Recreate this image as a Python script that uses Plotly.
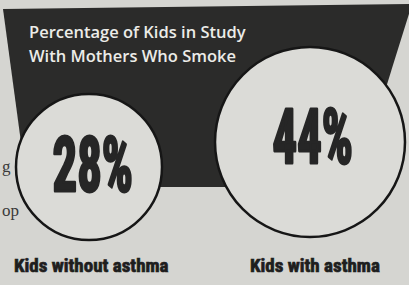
import plotly.graph_objects as go

# ---- data ----
categories = ["Kids without asthma", "Kids with asthma"]
values = [28, 44]  # percent of kids with mothers who smoke
title_lines = ["Percentage of Kids in Study", "With Mothers Who Smoke"]

# ---- layout constants ----
W, H = 409, 285
BG = "#d5d5d1"
DARK = "#2b2b2a"
CIRCLE_FILL = "#dbdbd7"
centers = [(89, 167), (310, 142)]
radii = [73, 95]
value_pos = [(92, 165), (312, 137)]
label_pos = [(91, 265), (315, 265)]
NUM_FONT = "Roboto Condensed"

fig = go.Figure()

shapes = [dict(type="path", xref="x", yref="y",
               path="M 3 9 L 412 4 L 355 187 L 27 187 Z",
               fillcolor=DARK, line=dict(width=0), layer="below")]
for (cx, cy), r in zip(centers, radii):
    shapes.append(dict(type="circle", xref="x", yref="y",
                       x0=cx - r, x1=cx + r, y0=cy - r, y1=cy + r,
                       fillcolor=CIRCLE_FILL,
                       line=dict(color="#161616", width=2.5), layer="below"))

annotations = []
for j, line in enumerate(title_lines):
    annotations.append(dict(x=27, y=31 + 24 * j, xref="x", yref="y",
                            xanchor="left", yanchor="middle",
                            text=line, showarrow=False,
                            font=dict(family="Open Sans", size=16.5, color="#ecece8", weight=600)))

for i, (cat, v) in enumerate(zip(categories, values)):
    vx, vy = value_pos[i]
    annotations.append(dict(x=vx, y=vy, xref="x", yref="y",
                            xanchor="center", yanchor="middle",
                            text=f"{v}%", showarrow=False,
                            font=dict(family=NUM_FONT, size=76, color="#262626", weight=700)))
    lx, ly = label_pos[i]
    annotations.append(dict(x=lx, y=ly, xref="x", yref="y",
                            xanchor="center", yanchor="middle",
                            text=cat, showarrow=False,
                            font=dict(family=NUM_FONT, size=19, color="#1e1e1e", weight=700)))

# stray text from the neighbouring newspaper column
annotations.append(dict(x=0, y=166, xref="x", yref="y", xanchor="left", yanchor="middle",
                        text="g", showarrow=False,
                        font=dict(family="Liberation Serif", size=17, color="#3a3a3a")))
annotations.append(dict(x=0, y=210, xref="x", yref="y", xanchor="left", yanchor="middle",
                        text="op", showarrow=False,
                        font=dict(family="Liberation Serif", size=17, color="#3a3a3a")))

fig.update_layout(
    width=W, height=H,
    margin=dict(l=0, r=0, t=0, b=0),
    paper_bgcolor=BG, plot_bgcolor=BG,
    xaxis=dict(range=[0, W], visible=False, fixedrange=True),
    yaxis=dict(range=[H, 0], visible=False, fixedrange=True),
    shapes=shapes, annotations=annotations,
    showlegend=False,
)

post = """
document.body.style.margin = '0';
document.body.style.overflow = 'hidden';
var gd = document.getElementById('{plot_id}');
gd.querySelectorAll('text.annotation-text').forEach(function(t) {
  var s = t.textContent.trim();
  if (s.slice(-1) === '%') {
    var bb = t.getBBox();
    var cx = bb.x + bb.width / 2;
    t.setAttribute('transform', 'translate(' + cx + ',0) scale(0.64,1) translate(' + (-cx) + ',0)');
    t.style.stroke = '#262626';
    t.style.strokeWidth = '3px';
    t.style.strokeLinejoin = 'round';
  } else if (s.indexOf('Kids') === 0) {
    t.style.stroke = '#1e1e1e';
    t.style.strokeWidth = '0.7px';
  }
});
"""

fig.write_html("out.html", config={"displayModeBar": False}, post_script=post)
